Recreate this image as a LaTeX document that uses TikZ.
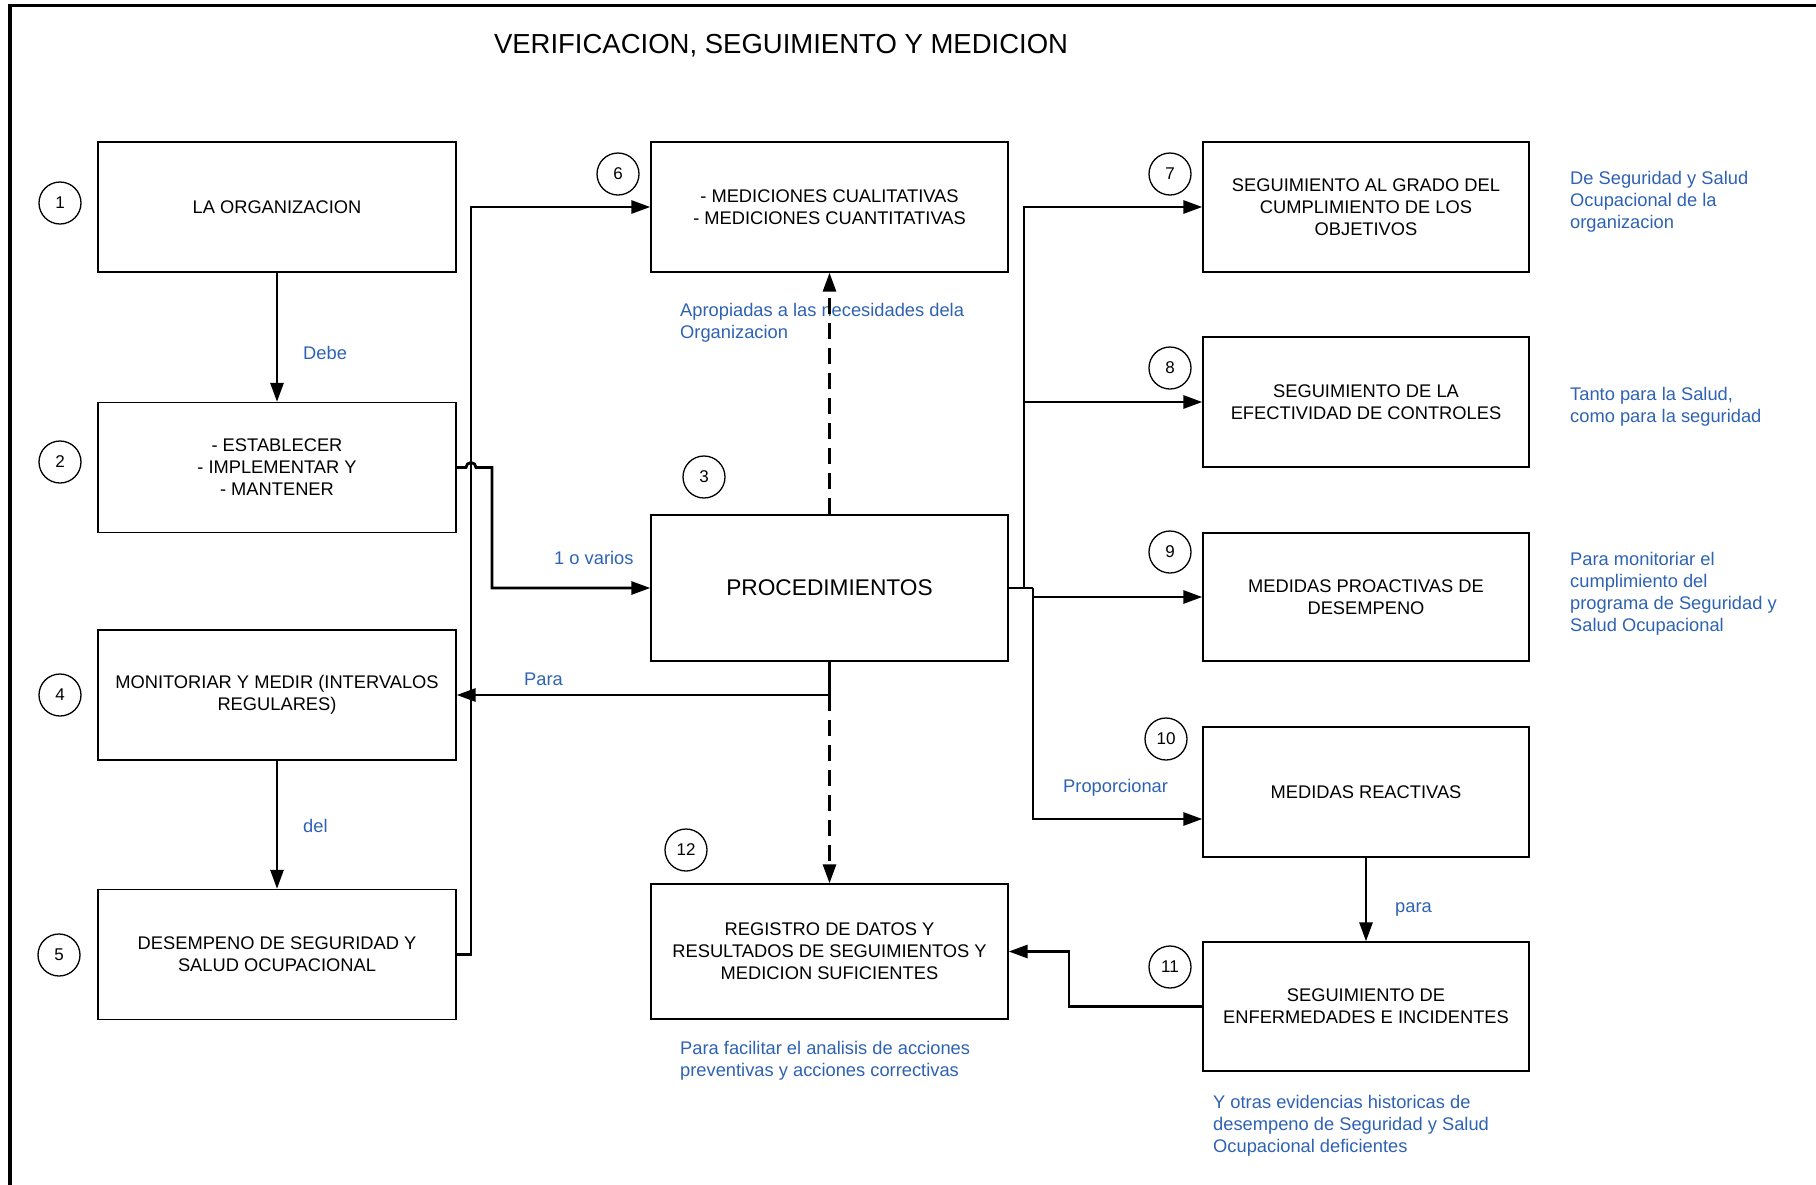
\documentclass[tikz,border=0pt]{standalone}
\usepackage{fontspec}
\setmainfont{Liberation Sans}
\usetikzlibrary{arrows.meta}
\definecolor{notec}{RGB}{46,98,178}

\tikzset{
  box/.style={draw, line width=1.3pt, inner sep=2pt, align=center,
    font=\fontsize{18.3}{22}\selectfont},
  num/.style={draw, circle, line width=1.3pt, minimum size=42pt, inner sep=0pt,
    font=\fontsize{17}{20}\selectfont},
  link/.style={line width=2.8pt},
  conn/.style={link, -{Triangle[length=19pt,width=13pt]}},
  dashconn/.style={conn, dash pattern=on 16pt off 9pt},
  note/.style={text=notec, anchor=west, align=left, inner xsep=0pt, yshift=-3pt,
    font=\fontsize{18.3}{22}\selectfont},
}

\begin{document}
\begin{tikzpicture}[x=1pt, y=-1pt]
\useasboundingbox (0,0) rectangle (1816,1184);

% outer frame (top and left edges)
\draw[line width=3.5pt] (10,1190) -- (10,5.5) -- (1820,5.5);

% title
\node[font=\fontsize{27.5}{32}\selectfont] (title) at (781,45.5) {VERIFICACION, SEGUIMIENTO Y MEDICION};

% left column
\node[box, minimum width=358pt, minimum height=130pt] (org) at (277,207) {LA ORGANIZACION};
\node[box, minimum width=358pt, minimum height=130pt] (est) at (277,467.5) {- ESTABLECER\\- IMPLEMENTAR Y\\- MANTENER};
\node[box, minimum width=358pt, minimum height=130pt] (mon) at (277,695) {MONITORIAR Y MEDIR (INTERVALOS\\REGULARES)};
\node[box, minimum width=358pt, minimum height=130pt] (des) at (277,954.5) {DESEMPENO DE SEGURIDAD Y\\SALUD OCUPACIONAL};

% middle column
\node[box, minimum width=357pt, minimum height=130pt] (med) at (829.5,207) {- MEDICIONES CUALITATIVAS\\- MEDICIONES CUANTITATIVAS};
\node[box, minimum width=357pt, minimum height=146pt, font=\fontsize{22.7}{26}\selectfont] (proc) at (829.5,588) {PROCEDIMIENTOS};
\node[box, minimum width=357pt, minimum height=135pt] (reg) at (829.5,951.5) {REGISTRO DE DATOS Y\\RESULTADOS DE SEGUIMIENTOS Y\\MEDICION SUFICIENTES};

% right column
\node[box, minimum width=326pt, minimum height=130pt] (obj) at (1366,207) {SEGUIMIENTO AL GRADO DEL\\CUMPLIMIENTO DE LOS\\OBJETIVOS};
\node[box, minimum width=326pt, minimum height=130pt] (efe) at (1366,402) {SEGUIMIENTO DE LA\\EFECTIVIDAD DE CONTROLES};
\node[box, minimum width=326pt, minimum height=128pt] (pro) at (1366,597) {MEDIDAS PROACTIVAS DE\\DESEMPENO};
\node[box, minimum width=326pt, minimum height=130pt] (rea) at (1366,792) {MEDIDAS REACTIVAS};
\node[box, minimum width=326pt, minimum height=129pt] (enf) at (1366,1006.5) {SEGUIMIENTO DE\\ENFERMEDADES E INCIDENTES};

% step numbers
\node[num] (c1) at (60,203) {1};
\node[num] (c2) at (60,462) {2};
\node[num] (c3) at (704,477) {3};
\node[num] (c4) at (60,695) {4};
\node[num] (c5) at (59,955) {5};
\node[num] (c6) at (618,174) {6};
\node[num] (c7) at (1170,174) {7};
\node[num] (c8) at (1170,368) {8};
\node[num] (c9) at (1170,552) {9};
\node[num] (c10) at (1166,739) {10};
\node[num] (c11) at (1170,967) {11};
\node[num] (c12) at (686,850) {12};

% notes
\node[note] (nDebe) at (303,350) {Debe};
\node[note] (nDel) at (303,823) {del};
\node[note] (nVarios) at (554,555) {1 o varios};
\node[note] (nPara) at (524,676) {Para};
\node[note] (nProp) at (1063,785) {Proporcionar};
\node[note] (npara) at (1395,906) {para};
\node[note] (nApro) at (680,320) {Apropiadas a las necesidades dela\\Organizacion};
\node[note] (nFac) at (680,1058) {Para facilitar el analisis de acciones\\preventivas y acciones correctivas};
\node[note] (nOtras) at (1213,1122.5) {Y otras evidencias historicas de\\desempeno de Seguridad y Salud\\Ocupacional deficientes};
\node[note] (nObj) at (1570,199) {De Seguridad y Salud\\Ocupacional de la\\organizacion};
\node[note] (nEfe) at (1570,404) {Tanto para la Salud,\\como para la seguridad};
\node[note] (nPro) at (1570,591) {Para monitoriar el\\cumplimiento del\\programa de Seguridad y\\Salud Ocupacional};

% routing columns
\coordinate (vx) at (471,0);
\coordinate (hopL) at (466,0);
\coordinate (bx) at (492,0);
\coordinate (rx1) at (1024,0);
\coordinate (rx2) at (1033,0);
\coordinate (lx) at (1069,0);
\coordinate (reain) at ([yshift=-27pt]rea.west);

% left column flow
\draw[conn] (org.south) -- (est.north);
\draw[conn] (mon.south) -- (des.north);
\draw[conn] (des.east) -- (des.east -| vx) -- (vx |- med.west) -- (med.west);
\draw[conn] (est.east) -- (est.east -| hopL) arc[start angle=180, end angle=0, radius=5pt]
  -- (est.east -| bx) -- (bx |- proc.west) -- (proc.west);

% procedures to monitoring and records
\coordinate (j4) at (proc.south |- mon.east);
\draw[conn] (proc.south) -- (j4) -- (mon.east);
\draw[dashconn] (j4) -- (reg.north);
\draw[dashconn] (proc.north) -- (med.south);

% procedures to follow-up boxes
\draw[link] (proc.east) -- (proc.east -| rx2);
\draw[conn] (proc.east -| rx1) -- (rx1 |- obj.west) -- (obj.west);
\draw[conn] (rx1 |- efe.west) -- (efe.west);
\draw[conn] (rx2 |- pro.west) -- (pro.west);
\draw[conn] (proc.east -| rx2) -- (rx2 |- reain) -- (reain);

% reactive measures chain
\draw[conn] (rea.south) -- (enf.north);
\draw[conn] (enf.west) -- (enf.west -| lx) -- (lx |- reg.east) -- (reg.east);

\end{tikzpicture}
\end{document}
